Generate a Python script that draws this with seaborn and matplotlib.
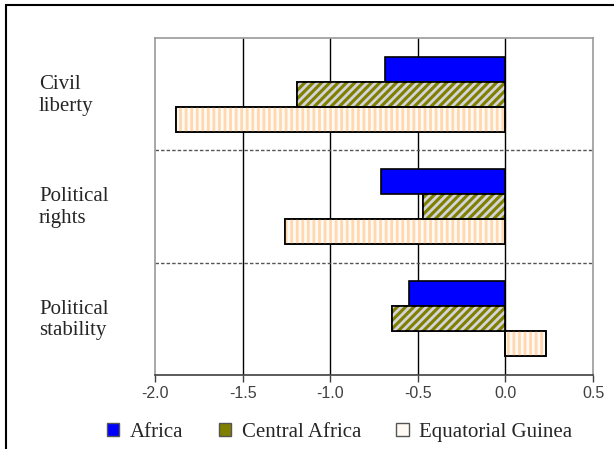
import numpy as np
import pandas as pd
import seaborn as sns
import matplotlib.pyplot as plt
from matplotlib.patches import Rectangle

# Governance indicators, Equatorial Guinea vs. regions
categories = ['Civil\nliberty', 'Political\nrights', 'Political\nstability']
regions = ['Africa', 'Central Africa', 'Equatorial Guinea']
africa = [-0.69, -0.71, -0.55]
central_africa = [-1.19, -0.47, -0.65]
equatorial_guinea = [-1.88, -1.26, 0.23]
xticks = [-2.0, -1.5, -1.0, -0.5, 0.0, 0.5]

df = pd.DataFrame({
    'indicator': categories * 3,
    'region': np.repeat(regions, 3),
    'score': africa + central_africa + equatorial_guinea,
})

sns.set_style('white')
plt.rcParams['hatch.linewidth'] = 2.0

fig = plt.figure(figsize=(6.14, 4.49), dpi=100)
ax = fig.add_axes([0.2524, 0.1648, 0.7134, 0.7506])

face = {'Africa': '#0000ff', 'Central Africa': '#808000', 'Equatorial Guinea': '#fffaf4'}
sns.barplot(data=df, y='indicator', x='score', hue='region', order=categories,
            hue_order=regions, palette=face, orient='h', width=0.67,
            edgecolor='black', linewidth=1.2, saturation=1, ax=ax, legend=False)

# hatching: diagonal light stripes for Central Africa, vertical orange for Eq. Guinea
hatch_style = {'Central Africa': ('////', '#d4d4dc'), 'Equatorial Guinea': ('|||', '#ffd8b0')}
for cont, reg in zip(ax.containers, regions):
    if reg not in hatch_style:
        continue
    h, hc = hatch_style[reg]
    for bar in cont:
        if hasattr(bar, 'set_hatchcolor'):
            bar.set_hatch(h)
            bar.set_hatchcolor(hc)
        else:
            ov = Rectangle(bar.get_xy(), bar.get_width(), bar.get_height(),
                           facecolor='none', edgecolor=hc, hatch=h, linewidth=0, zorder=bar.get_zorder() + 0.1)
            ax.add_patch(ov)
            frame = Rectangle(bar.get_xy(), bar.get_width(), bar.get_height(),
                              facecolor='none', edgecolor='black', linewidth=1.2, zorder=bar.get_zorder() + 0.2)
            ax.add_patch(frame)

ax.set_xlim(-2.0, 0.5)
ax.set_ylim(2.5, -0.5)
ax.set_xticks(xticks)
ax.set_xticklabels([f'{t:.1f}' for t in xticks], fontfamily='Liberation Sans',
                   fontsize=11.5, color='#404040')
ax.tick_params(axis='x', direction='out', length=5, width=1, color='#404040', bottom=True, pad=3)
ax.set_yticks([])
ax.set_xlabel('')
ax.set_ylabel('')

for t in xticks[1:-1]:
    ax.axvline(t, color='black', lw=1.0, zorder=0.5)
for y in [0.5, 1.5]:
    ax.axhline(y, color='#555555', lw=1.0, ls=(0, (2.5, 1.5)), zorder=0.5)

for s in ax.spines.values():
    s.set_color('#999999')
    s.set_linewidth(1.2)
ax.spines['bottom'].set_color('#404040')

# category labels on the left
trans = ax.get_yaxis_transform()
for i, cat in enumerate(categories):
    ax.text((-0.2524 + 39 / 614) / 0.7134, i + 0.01, cat, transform=trans,
            ha='left', va='center', fontfamily='Liberation Serif', fontsize=15,
            linespacing=1.2)

# legend
handles = [Rectangle((0, 0), 1, 1, facecolor=face[r], edgecolor='#555555', lw=1) for r in regions]
fig.legend(handles, regions, loc='center left', bbox_to_anchor=(0.174, 0.037), ncol=3,
           frameon=False, prop={'family': 'Liberation Serif', 'size': 15},
           handlelength=0.6, handleheight=0.6, handletextpad=0.5, columnspacing=1.7,
           borderaxespad=0, borderpad=0)

# outer frame
fig.patches.append(Rectangle((6 / 614, -0.05), 1.1, 1 - 5 / 449 + 0.05, transform=fig.transFigure,
                             facecolor='none', edgecolor='black', lw=1.5, figure=fig))

fig.savefig('out.png', dpi=100)
